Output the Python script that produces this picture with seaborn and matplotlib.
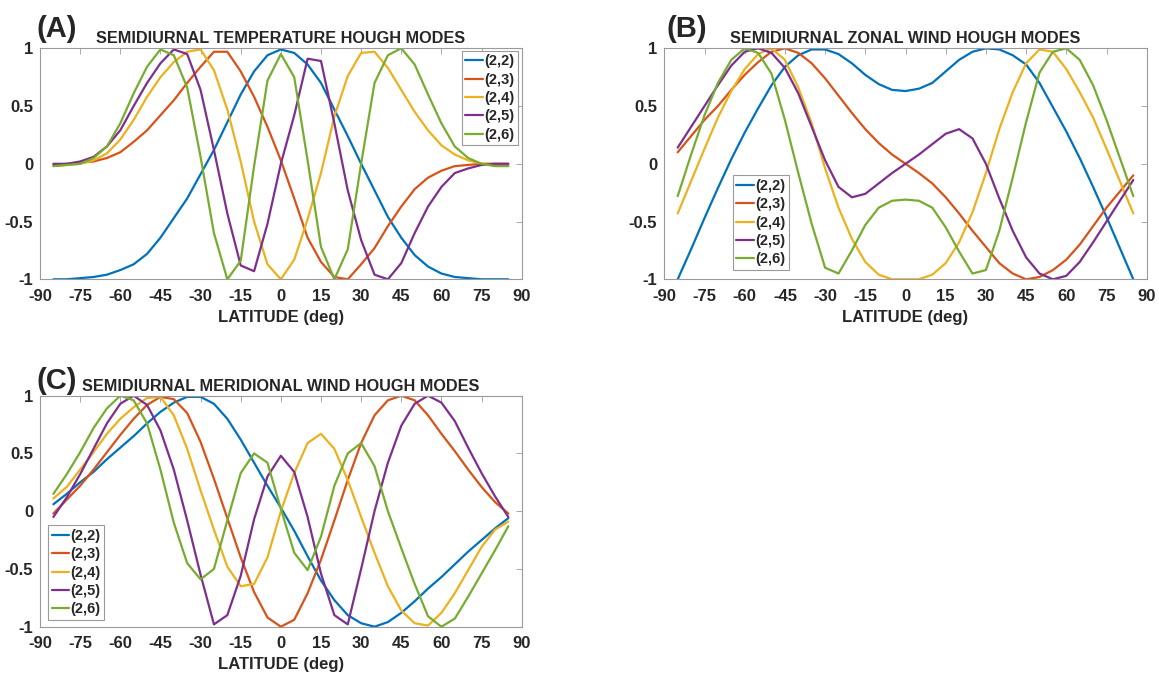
import numpy as np
import pandas as pd
import matplotlib
matplotlib.use("Agg")
import matplotlib.pyplot as plt
import seaborn as sns

# ---------------- data ----------------
lat = list(range(-85, 90, 5))
modes = ["(2,2)", "(2,3)", "(2,4)", "(2,5)", "(2,6)"]
colors = ["#0072BD", "#D95319", "#EDB120", "#7E2F8E", "#77AC30"]

temp_22 = [-1.0, -1.0, -0.99, -0.98, -0.96, -0.92, -0.87, -0.78, -0.64, -0.47, -0.3, -0.09, 0.12, 0.36, 0.6, 0.8, 0.94, 0.99,
           0.96, 0.86, 0.7, 0.47, 0.24, 0.0, -0.23, -0.46, -0.64, -0.79, -0.89, -0.95, -0.98, -0.99, -1.0, -1.0, -1.0]
temp_23 = [-0.01, 0.0, 0.01, 0.02, 0.05, 0.1, 0.19, 0.29, 0.42, 0.55, 0.7, 0.84, 0.97, 0.97, 0.8, 0.58, 0.32, 0.03,
           -0.3, -0.64, -0.85, -0.98, -1.0, -0.87, -0.73, -0.54, -0.37, -0.22, -0.12, -0.06, -0.02, -0.01, 0.0, 0.0, 0.0]
temp_24 = [-0.02, -0.01, 0.0, 0.03, 0.09, 0.21, 0.38, 0.58, 0.75, 0.88, 0.97, 0.99, 0.81, 0.47, 0.02, -0.5, -0.87, -1.0,
           -0.83, -0.48, -0.08, 0.41, 0.76, 0.96, 0.97, 0.83, 0.64, 0.45, 0.29, 0.16, 0.08, 0.03, 0.0, 0.0, -0.01]
temp_25 = [0.0, 0.0, 0.02, 0.06, 0.15, 0.29, 0.5, 0.7, 0.87, 0.99, 0.95, 0.64, 0.12, -0.43, -0.88, -0.93, -0.52, 0.0,
           0.42, 0.91, 0.89, 0.35, -0.23, -0.66, -0.96, -1.0, -0.86, -0.6, -0.37, -0.2, -0.08, -0.04, -0.01, 0.0, 0.0]
temp_26 = [-0.02, -0.01, 0.0, 0.05, 0.15, 0.35, 0.61, 0.84, 0.99, 0.94, 0.66, 0.06, -0.6, -1.0, -0.84, -0.02, 0.72, 0.95,
           0.75, 0.03, -0.72, -1.0, -0.74, 0.0, 0.7, 0.94, 1.0, 0.86, 0.6, 0.35, 0.15, 0.05, 0.0, -0.02, -0.02]

zon_22 = [-1.0, -0.74, -0.47, -0.21, 0.04, 0.27, 0.48, 0.68, 0.84, 0.94, 0.99, 0.99, 0.95, 0.87, 0.77, 0.69, 0.64, 0.63,
          0.65, 0.7, 0.8, 0.9, 0.97, 1.0, 0.99, 0.94, 0.86, 0.7, 0.49, 0.28, 0.05, -0.2, -0.46, -0.73, -1.0]
zon_23 = [0.1, 0.24, 0.38, 0.5, 0.64, 0.77, 0.88, 0.97, 1.0, 0.96, 0.87, 0.74, 0.59, 0.44, 0.3, 0.18, 0.08, 0.0,
          -0.08, -0.17, -0.29, -0.43, -0.58, -0.72, -0.86, -0.95, -1.0, -0.98, -0.92, -0.83, -0.7, -0.54, -0.38, -0.24, -0.1]
zon_24 = [-0.43, -0.15, 0.13, 0.4, 0.63, 0.82, 0.95, 1.0, 0.9, 0.66, 0.35, -0.04, -0.38, -0.65, -0.85, -0.96, -1.0, -1.0,
          -1.0, -0.96, -0.86, -0.68, -0.42, -0.08, 0.3, 0.62, 0.87, 0.99, 0.97, 0.82, 0.62, 0.4, 0.13, -0.15, -0.43]
zon_25 = [0.14, 0.32, 0.5, 0.68, 0.85, 0.97, 1.0, 0.96, 0.83, 0.61, 0.32, 0.03, -0.2, -0.29, -0.26, -0.17, -0.08, 0.0,
          0.08, 0.17, 0.26, 0.3, 0.22, 0.0, -0.3, -0.58, -0.81, -0.95, -1.0, -0.97, -0.85, -0.68, -0.5, -0.32, -0.14]
zon_26 = [-0.28, 0.08, 0.42, 0.7, 0.9, 1.0, 0.96, 0.78, 0.38, -0.08, -0.52, -0.9, -0.95, -0.75, -0.53, -0.38, -0.32, -0.31,
          -0.32, -0.38, -0.55, -0.76, -0.95, -0.92, -0.58, -0.12, 0.36, 0.79, 0.97, 1.0, 0.9, 0.68, 0.38, 0.05, -0.28]

mer_22 = [0.06, 0.15, 0.25, 0.34, 0.45, 0.55, 0.65, 0.76, 0.86, 0.94, 0.99, 0.99, 0.93, 0.8, 0.62, 0.42, 0.22, 0.03,
          -0.17, -0.39, -0.6, -0.77, -0.9, -0.97, -1.0, -0.96, -0.88, -0.78, -0.67, -0.57, -0.46, -0.35, -0.25, -0.15, -0.06]
mer_23 = [-0.02, 0.1, 0.22, 0.36, 0.51, 0.66, 0.8, 0.92, 0.99, 0.97, 0.85, 0.6, 0.28, -0.06, -0.4, -0.7, -0.92, -1.0,
          -0.94, -0.71, -0.42, -0.08, 0.27, 0.59, 0.83, 0.96, 1.0, 0.96, 0.83, 0.67, 0.52, 0.36, 0.21, 0.08, -0.02]
mer_24 = [0.11, 0.21, 0.36, 0.51, 0.67, 0.8, 0.9, 0.98, 0.99, 0.83, 0.54, 0.18, -0.16, -0.48, -0.65, -0.63, -0.4, 0.0,
          0.33, 0.59, 0.67, 0.54, 0.27, -0.05, -0.36, -0.65, -0.86, -0.97, -0.99, -0.88, -0.71, -0.51, -0.31, -0.16, -0.09]
mer_25 = [-0.05, 0.12, 0.32, 0.54, 0.76, 0.93, 1.0, 0.92, 0.7, 0.36, -0.08, -0.55, -0.98, -0.9, -0.56, -0.07, 0.3, 0.48,
          0.34, -0.05, -0.54, -0.9, -0.98, -0.5, 0.0, 0.42, 0.74, 0.93, 1.0, 0.94, 0.78, 0.55, 0.33, 0.13, -0.05]
mer_26 = [0.15, 0.32, 0.51, 0.72, 0.89, 1.0, 0.96, 0.76, 0.36, -0.1, -0.45, -0.59, -0.5, -0.08, 0.33, 0.5, 0.42, 0.02,
          -0.36, -0.51, -0.22, 0.22, 0.5, 0.59, 0.39, 0.0, -0.32, -0.63, -0.91, -1.0, -0.93, -0.74, -0.54, -0.34, -0.13]

xticks = list(range(-90, 91, 15))
yticks = [-1, -0.5, 0, 0.5, 1]
ytick_labels = ["-1", "-0.5", "0", "0.5", "1"]

panels = [
    ("(A)", "SEMIDIURNAL TEMPERATURE HOUGH MODES", [temp_22, temp_23, temp_24, temp_25, temp_26]),
    ("(B)", "SEMIDIURNAL ZONAL WIND HOUGH MODES", [zon_22, zon_23, zon_24, zon_25, zon_26]),
    ("(C)", "SEMIDIURNAL MERIDIONAL WIND HOUGH MODES", [mer_22, mer_23, mer_24, mer_25, mer_26]),
]

# ---------------- style ----------------
sns.set_theme(style="white")
plt.rcParams["font.family"] = ["Liberation Sans", "DejaVu Sans"]
plt.rcParams["font.weight"] = "bold"

W, H = 1159, 675
fig = plt.figure(figsize=(W / 100, H / 100), dpi=100)

# axes boxes in pixels: (left, top, right, bottom)
boxes = [(40, 48.3, 521.7, 279.3), (664.3, 48.3, 1146.7, 279.3), (40, 395.7, 521.7, 626.7)]
label_pos = [(36, 37), (666, 37), (36, 389)]
leg_cfg = [
    dict(loc="upper right", bbox_to_anchor=(0.992, 0.99)),
    dict(loc="upper left", bbox_to_anchor=(0.142, 0.45)),
    dict(loc="lower left", bbox_to_anchor=(0.017, 0.029)),
]
frame_col = "#9a9a9a"

for (plab, title, series), (l, t, r, b), (lx, ly), lc in zip(panels, boxes, label_pos, leg_cfg):
    ax = fig.add_axes([l / W, 1 - b / H, (r - l) / W, (b - t) / H])
    df = pd.DataFrame({
        "lat": lat * len(modes),
        "value": [v for s in series for v in s],
        "mode": [m for m in modes for _ in lat],
    })
    sns.lineplot(data=df, x="lat", y="value", hue="mode", hue_order=modes,
                 palette=dict(zip(modes, colors)), linewidth=1.6, ax=ax,
                 errorbar=None, legend=True)
    ax.set_xlim(-90, 90)
    ax.set_ylim(-1, 1)
    ax.set_xticks(xticks)
    ax.set_xticklabels([str(x) for x in xticks])
    ax.set_yticks(yticks)
    ax.set_yticklabels(ytick_labels)
    ax.tick_params(direction="in", top=True, right=True, length=4, width=0.6,
                   color=frame_col, labelsize=12)
    ax.tick_params(axis="x", pad=7)
    ax.tick_params(axis="y", pad=5)
    for lab in ax.get_xticklabels() + ax.get_yticklabels():
        lab.set_fontweight("bold")
    for sp in ax.spines.values():
        sp.set_color(frame_col)
        sp.set_linewidth(0.8)
    ax.set_xlabel("LATITUDE (deg)", fontsize=12, fontweight="bold", labelpad=4)
    ax.set_ylabel("")
    ax.set_title(title, fontsize=11.7, fontweight="bold", pad=3.5)

    old = ax.get_legend()
    handles = old.legend_handles
    labels = [tx.get_text() for tx in old.get_texts()]
    old.remove()
    leg = ax.legend(handles, labels, frameon=True, fancybox=False,
                    framealpha=1, edgecolor=frame_col, handlelength=1.2,
                    handletextpad=0.08, labelspacing=0.3, borderpad=0.25,
                    borderaxespad=0, prop={"weight": "bold", "size": 10.5}, **lc)
    leg.get_frame().set_linewidth(0.8)
    for h, c in zip(leg.legend_handles, colors):
        h.set_color(c)
        h.set_linewidth(1.6)

    fig.text(lx / W, 1 - ly / H, plab, fontsize=21, fontweight="bold",
             ha="left", va="baseline")

fig.savefig("out.png", dpi=100)
